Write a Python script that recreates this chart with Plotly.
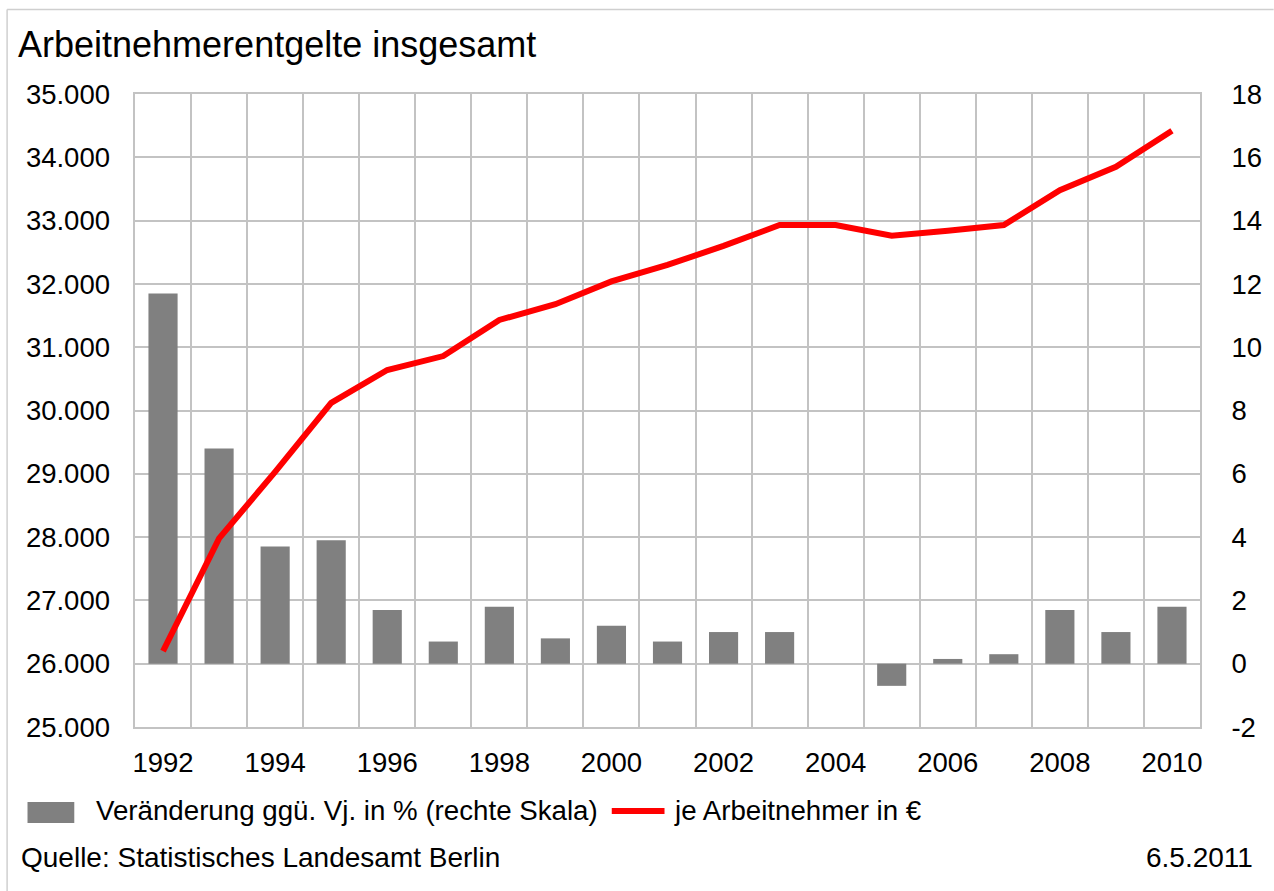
import plotly.graph_objects as go

# Arbeitnehmerentgelte Berlin, 1992-2010
years = list(range(1992, 2011))
change_pct = [11.7, 6.8, 3.7, 3.9, 1.7, 0.7, 1.8, 0.8, 1.2, 0.7,
              1.0, 1.0, 0.0, -0.7, 0.15, 0.3, 1.7, 1.0, 1.8]
per_employee = [26200, 27980, 29030, 30120, 30640, 30860, 31430, 31680, 32040, 32300,
                32600, 32930, 32930, 32760, 32840, 32930, 33480, 33850, 34420]

x_ticks = list(range(1992, 2011, 2))
left_ticks = list(range(25000, 35001, 1000))
right_ticks = list(range(-2, 19, 2))
right_labels = [str(v) for v in right_ticks]

bar_label = "Veränderung ggü. Vj. in % (rechte Skala)"
line_label = "je Arbeitnehmer in €"

W, H = 1274, 891
L, R, T, B = 135, 1205, 94, 727
FONT = "Liberation Sans, Arial, sans-serif"
GRID = "#c3c3c3"
BAR = "#808080"
RED = "#ff0000"


def px(x):
    return (x - L) / (R - L)


def py(y):
    return (B - y) / (B - T)


fig = go.Figure()
fig.add_bar(x=years, y=change_pct, name=bar_label, marker_color=BAR,
            marker_line_width=0, yaxis="y", showlegend=False)
fig.add_scatter(x=years, y=per_employee, name=line_label, mode="lines",
                line=dict(color=RED, width=6), yaxis="y2", showlegend=False)

axis_font = dict(family=FONT, size=27.5, color="#000000")

fig.update_layout(
    width=W, height=H,
    margin=dict(l=L, r=W - R, t=T, b=H - B, pad=0),
    paper_bgcolor="#ffffff", plot_bgcolor="#ffffff",
    separators=",.",
    bargap=0.48,
    font=dict(family=FONT, color="#000000"),
    title=dict(text="Arbeitnehmerentgelte insgesamt", xref="container", yref="container",
               x=18 / W, xanchor="left", y=1 - 44 / H, yanchor="middle",
               font=dict(family=FONT, size=36, color="#000000")),
    xaxis=dict(range=[1991.5, 2010.5], tickmode="array", tickvals=x_ticks,
               showgrid=False, zeroline=False, ticks="", tickfont=axis_font,
               ticklabelstandoff=10,
               minor=dict(tick0=1991.5, dtick=1, showgrid=True, gridcolor=GRID,
                          gridwidth=1.75, ticks=""),
               showline=True, linecolor=GRID, linewidth=1.75, mirror=True),
    yaxis=dict(side="right", range=[-2, 18], tickmode="array", tickvals=right_ticks,
               ticktext=right_labels,
               showgrid=True, gridcolor=GRID, gridwidth=1.75, zeroline=False,
               ticks="", tickfont=axis_font, ticklabelstandoff=24,
               showline=True, linecolor=GRID, linewidth=1.75, mirror=True),
    yaxis2=dict(side="left", overlaying="y", range=[25000, 35000], tickmode="array",
                tickvals=left_ticks, tickformat=",d", showgrid=False, zeroline=False,
                ticks="", tickfont=axis_font, ticklabelstandoff=24),
)

# outer chart frame (top and left edges)
fig.add_shape(type="line", xref="paper", yref="paper",
              x0=px(6.5), x1=px(W + 5), y0=py(9.5), y1=py(9.5),
              line=dict(color="#cfcfcf", width=1.5))
fig.add_shape(type="line", xref="paper", yref="paper",
              x0=px(6.5), x1=px(6.5), y0=py(9.5), y1=py(H + 5),
              line=dict(color="#cfcfcf", width=1.5))

# legend keys and labels
fig.add_shape(type="rect", xref="paper", yref="paper",
              x0=px(27), x1=px(74), y0=py(823), y1=py(802),
              line_width=0, fillcolor=BAR)
fig.add_shape(type="line", xref="paper", yref="paper",
              x0=px(614), x1=px(667), y0=py(811), y1=py(811),
              line=dict(color=RED, width=6))
legend_font = dict(family=FONT, size=27.7, color="#000000")
fig.add_annotation(text=bar_label, xref="paper", yref="paper", x=px(94), y=py(810),
                   xanchor="left", yanchor="middle", showarrow=False, font=legend_font)
fig.add_annotation(text=line_label, xref="paper", yref="paper", x=px(675), y=py(810),
                   xanchor="left", yanchor="middle", showarrow=False, font=legend_font)

# source and date
note_font = dict(family=FONT, size=28, color="#000000")
fig.add_annotation(text="Quelle: Statistisches Landesamt Berlin", xref="paper", yref="paper",
                   x=px(18), y=py(857), xanchor="left", yanchor="middle",
                   showarrow=False, font=note_font)
fig.add_annotation(text="6.5.2011", xref="paper", yref="paper",
                   x=px(1260), y=py(858), xanchor="right", yanchor="middle",
                   showarrow=False, font=note_font)

fig.write_html("out.html")
